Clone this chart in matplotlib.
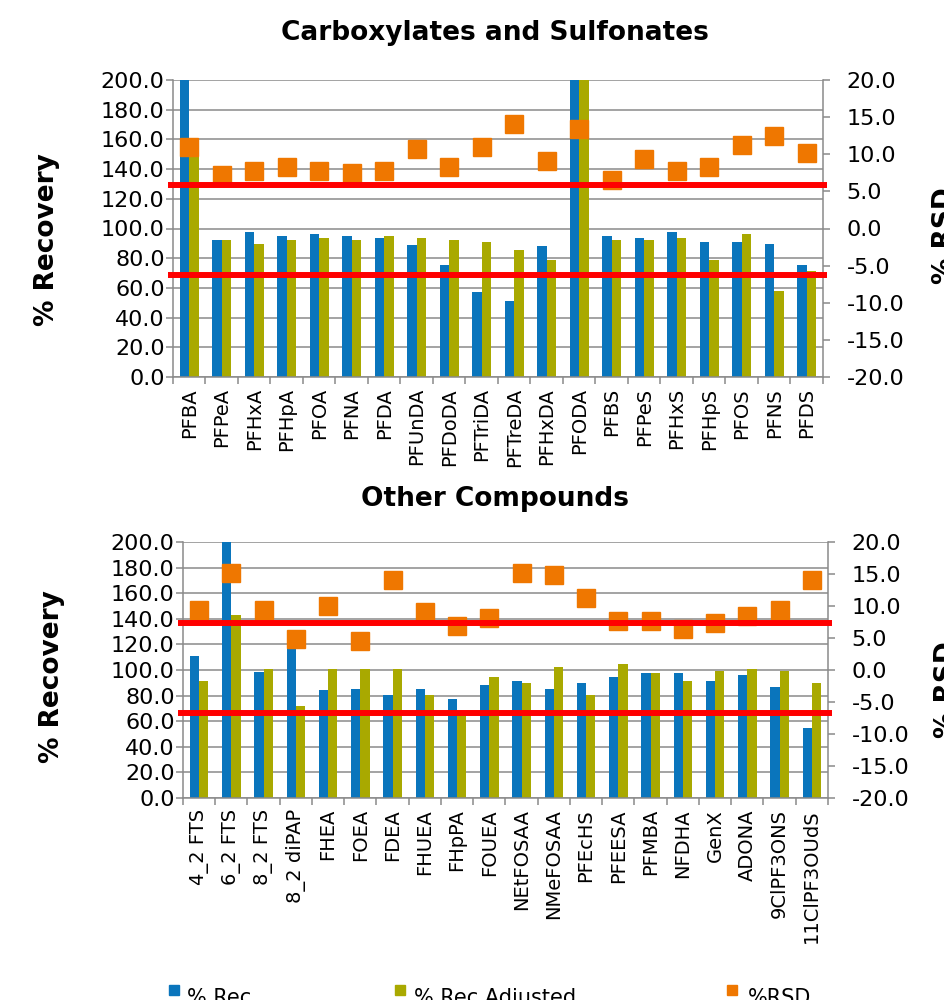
import matplotlib
matplotlib.use("Agg")
import matplotlib.pyplot as plt
import numpy as np
from matplotlib.patches import Rectangle
from matplotlib.lines import Line2D
from matplotlib.transforms import blended_transform_factory

# Carboxylates and sulfonates
top_names = ["PFBA", "PFPeA", "PFHxA", "PFHpA", "PFOA", "PFNA", "PFDA", "PFUnDA",
             "PFDoDA", "PFTriDA", "PFTreDA", "PFHxDA", "PFODA", "PFBS", "PFPeS",
             "PFHxS", "PFHpS", "PFOS", "PFNS", "PFDS"]
top_rec = [240.0, 92.2, 97.6, 94.9, 96.3, 94.9, 93.6, 88.6, 75.3, 57.0,
           51.5, 88.4, 235.0, 94.9, 93.6, 97.6, 90.8, 90.8, 89.7, 75.3]
top_rec_adj = [160.0, 92.2, 89.7, 92.2, 93.6, 92.2, 94.9, 93.6, 92.2, 90.8,
               85.6, 79.1, 225.0, 92.2, 92.2, 93.6, 79.1, 96.3, 58.1, 71.2]
top_rsd = [11.0, 7.2, 7.8, 8.3, 7.8, 7.5, 7.8, 10.7, 8.3, 11.0,
           14.1, 9.1, 13.4, 6.5, 9.4, 7.8, 8.3, 11.2, 12.5, 10.2]
top_limits = [129.0, 69.0]

# Other compounds
bot_names = ["4_2 FTS", "6_2 FTS", "8_2 FTS", "8_2 diPAP", "FHEA", "FOEA", "FDEA",
             "FHUEA", "FHpPA", "FOUEA", "NEtFOSAA", "NMeFOSAA", "PFEcHS", "PFEESA",
             "PFMBA", "NFDHA", "GenX", "ADONA", "9ClPF3ONS", "11ClPF3OUdS"]
bot_rec = [111.0, 230.0, 98.8, 130.0, 84.0, 85.3, 80.8, 85.3, 77.7, 88.4,
           91.5, 85.3, 90.0, 94.7, 97.5, 97.5, 91.5, 96.0, 86.8, 55.0]
bot_rec_adj = [91.5, 143.2, 100.6, 72.0, 100.6, 100.6, 100.6, 80.8, 67.0, 94.7,
               90.0, 102.2, 80.8, 105.0, 97.5, 91.5, 99.0, 100.6, 99.0, 90.0]
bot_rsd = [9.4, 15.1, 9.4, 4.8, 10.0, 4.5, 14.0, 9.1, 6.9, 8.2,
           15.2, 14.9, 11.2, 7.6, 7.6, 6.4, 7.3, 8.5, 9.4, 14.0]
bot_limits = [137.0, 66.5]

legend_labels = ["% Rec", "% Rec Adjusted", "%RSD"]

BLUE = "#0a75bc"
OLIVE = "#a9a900"
ORANGE = "#ef7700"
GRID = "#8a8a8a"

fig = plt.figure(figsize=(9.45, 10), dpi=100)
W, H = 945.0, 1000.0


def panel(box, title, title_y, names, rec, rec_adj, rsd, limits):
    l, t, r, b = box
    ax = fig.add_axes([l / W, 1 - b / H, (r - l) / W, (b - t) / H])
    x = np.arange(len(names))
    w = 0.29
    ax.bar(x - w / 2, rec, w, color=BLUE, zorder=2)
    ax.bar(x + w / 2, rec_adj, w, color=OLIVE, zorder=2)
    ax.set_xlim(-0.5, len(names) - 0.5)
    ax.set_ylim(0, 200)
    ax.set_yticks(np.arange(0, 201, 20))
    ax.set_yticklabels([f"{v:.1f}" for v in np.arange(0, 201, 20)], fontsize=16)
    ax.yaxis.grid(True, color=GRID, lw=1.1)
    ax.set_axisbelow(True)
    ax.set_xticks(x)
    ax.set_xticklabels(names, rotation=90, fontsize=14, va="top")
    ax.set_xticks(np.arange(-0.5, len(names)), minor=True)
    ax.tick_params(axis="x", which="major", length=0, pad=8)
    ax.tick_params(axis="x", which="minor", length=5, color=GRID, width=1.1)
    ax.tick_params(axis="y", length=5, color=GRID, width=1.1, pad=1)
    for s in ["top", "right"]:
        ax.spines[s].set_visible(False)
    for s in ["left", "bottom"]:
        ax.spines[s].set_color(GRID)
        ax.spines[s].set_linewidth(1.1)

    ax2 = ax.twinx()
    ax2.set_ylim(-20, 20)
    ax2.set_yticks(np.arange(-20, 21, 5))
    ax2.set_yticklabels([f"{v:.1f}" for v in np.arange(-20, 21, 5)], fontsize=16)
    ax2.tick_params(axis="y", length=5, color=GRID, width=1.1, pad=12)
    for s in ["top", "left", "bottom"]:
        ax2.spines[s].set_visible(False)
    ax2.spines["right"].set_color(GRID)
    ax2.spines["right"].set_linewidth(1.1)
    ax2.plot(x, rsd, "s", color=ORANGE, markersize=13.5, linestyle="none", zorder=3)

    # acceptance limits, drawn over the markers on the recovery scale
    tr = blended_transform_factory(ax2.transAxes, ax.transData)
    for y in limits:
        ax2.add_line(Line2D([-0.008, 1.006], [y, y], transform=tr, color="#ff0000",
                            lw=4.3, solid_capstyle="butt", clip_on=False, zorder=4))

    fig.text(0.524, 1 - title_y / H, title, ha="center", va="center",
             fontsize=19, fontweight="bold")
    return ax


panel((173, 80, 823, 377), "Carboxylates and Sulfonates", 33,
      top_names, top_rec, top_rec_adj, top_rsd, top_limits)
panel((183, 542, 828, 798), "Other Compounds", 499,
      bot_names, bot_rec, bot_rec_adj, bot_rsd, bot_limits)

# axis titles
fig.text(47 / W, 1 - 240 / H, "% Recovery", rotation=90, ha="center", va="center",
         fontsize=19, fontweight="bold")
fig.text(52 / W, 1 - 677 / H, "% Recovery", rotation=90, ha="center", va="center",
         fontsize=19, fontweight="bold")
fig.text(932 / W, 1 - 236 / H, "% RSD", rotation=90, ha="left", va="center",
         fontsize=19, fontweight="bold")
fig.text(934 / W, 1 - 690 / H, "% RSD", rotation=90, ha="left", va="center",
         fontsize=19, fontweight="bold")

# legend along the bottom edge
for lab, col, xs, xt in zip(legend_labels, [BLUE, OLIVE, ORANGE],
                            [169, 395, 727], [187, 414, 748]):
    fig.patches.append(Rectangle((xs / W, 1 - 995 / H), 10 / W, 10 / H,
                                 transform=fig.transFigure, color=col))
    fig.text(xt / W, 1 - 1004 / H, lab, ha="left", va="baseline", fontsize=15)

fig.savefig("out.png", dpi=100)
